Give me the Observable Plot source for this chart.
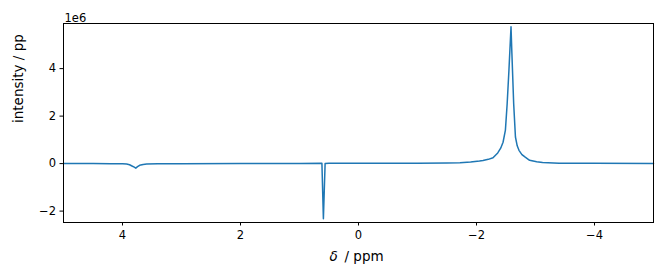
<!DOCTYPE html>
<html>
<head>
<meta charset="utf-8">
<script src="https://cdn.jsdelivr.net/npm/d3@7"></script>
<script src="https://cdn.jsdelivr.net/npm/@observablehq/plot@0.6"></script>
<style>
  body { margin: 0; background: #fff; }
  svg { font-family: "DejaVu Sans", sans-serif; }
</style>
</head>
<body>
<div id="chart"></div>
<script>
// chemical shift (ppm)
const ppm = [5.0, 4.5, 4.2, 4.0, 3.93, 3.88, 3.84, 3.80, 3.775, 3.745, 3.71, 3.65, 3.59, 3.4, 3.0, 2.0, 1.0,
  0.63, 0.62, 0.595, 0.566, 0.5, 0.0, -1.0, -1.5, -1.72, -1.9, -2.05, -2.11, -2.2, -2.28, -2.36, -2.41, -2.45,
  -2.49, -2.52, -2.55, -2.585, -2.60, -2.63, -2.66, -2.69, -2.72, -2.77, -2.82, -2.9, -3.02, -3.12, -3.4, -4.0, -5.0];
// intensity (×1e6)
const intensity = [0.0, 0.0, -0.005, -0.01, -0.02, -0.05, -0.1, -0.15, -0.19, -0.13, -0.07, -0.04, -0.02, -0.01, -0.005, 0.0, 0.005,
  0.01, 0.01, -2.32, 0.0, 0.02, 0.02, 0.02, 0.03, 0.04, 0.07, 0.11, 0.13, 0.18, 0.25, 0.45, 0.65, 0.9,
  1.41, 2.53, 3.94, 5.76, 4.64, 2.53, 1.12, 0.75, 0.56, 0.38, 0.28, 0.14, 0.08, 0.05, 0.02, 0.01, 0.0];
const xTicks = [4, 2, 0, -2, -4];
const yTicks = [-2, 0, 2, 4];

const data = ppm.map((p, i) => ({ppm: p, val: intensity[i] * 1e6}));

const chart = Plot.plot({
  width: 662,
  height: 278,
  marginLeft: 63,
  marginRight: 9,
  marginTop: 23,
  marginBottom: 56,
  style: {fontFamily: "DejaVu Sans, sans-serif", fontSize: "11.5px", background: "white", color: "black"},
  x: {domain: [5, -5]},
  y: {domain: [-2.48e6, 5.9e6]},
  marks: [
    Plot.axisX({ticks: xTicks, tickSize: 3.5, tickPadding: 5, label: null, fontSize: 11.5, tickFormat: d => d3.format("")(d)}),
    Plot.axisY({ticks: yTicks.map(t => t * 1e6), tickSize: 3.5, tickPadding: 4, label: null, fontSize: 11.5, tickFormat: d => d3.format("")(d / 1e6)}),
    Plot.line(data, {x: "ppm", y: "val", stroke: "#1f77b4", strokeWidth: 1.5}),
    Plot.frame({stroke: "black", strokeWidth: 1}),
    Plot.text(["1e6"], {frameAnchor: "top-left", textAnchor: "start", dx: 1, dy: -10, fontSize: 11.5}),
    Plot.text(["intensity / pp"], {frameAnchor: "left", rotate: -90, dx: -45, fontSize: 13.5}),
    Plot.text(["δ"], {frameAnchor: "bottom", textAnchor: "start", dx: -29, dy: 38, fontSize: 13.5, fontStyle: "italic"}),
    Plot.text(["/ ppm"], {frameAnchor: "bottom", textAnchor: "start", dx: -14, dy: 38, fontSize: 13.5})
  ]
});
document.getElementById("chart").appendChild(chart);
</script>
</body>
</html>
